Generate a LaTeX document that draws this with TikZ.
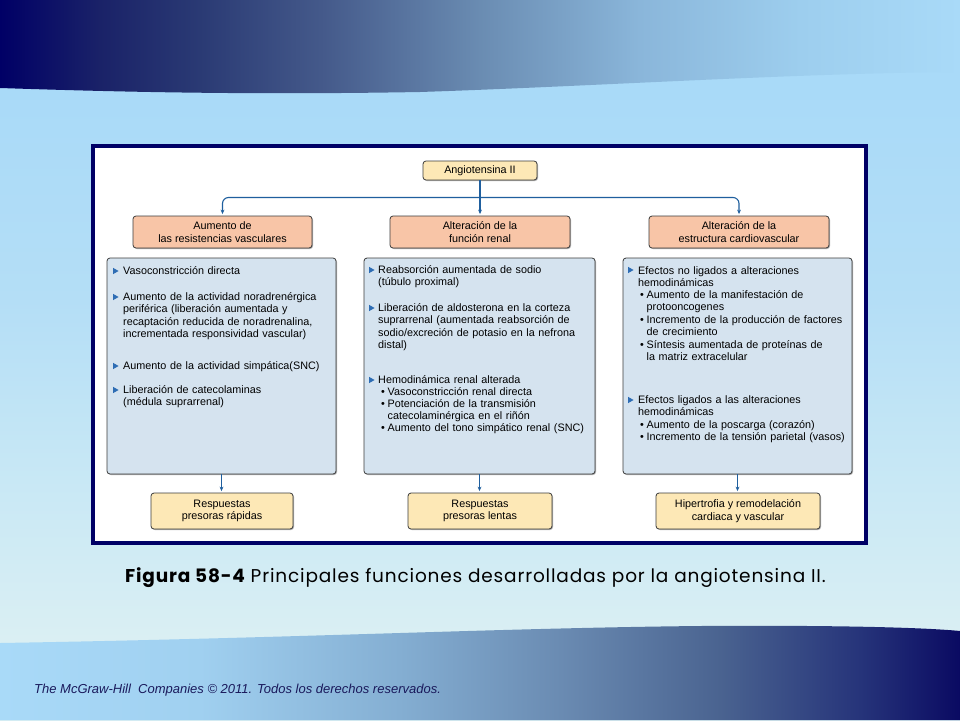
\documentclass[tikz,border=0pt]{standalone}
\usepackage{fontspec}
\setmainfont{Liberation Sans}
\newfontfamily\capfont[LetterSpace=4.5]{Poppins}
\usetikzlibrary{arrows.meta,shadows}
\definecolor{navy}{HTML}{000066}
\definecolor{bgtop}{HTML}{A9DAF8}
\definecolor{bgmid}{HTML}{B4DEF6}
\definecolor{bglow}{HTML}{C8E8F5}
\definecolor{bgbot}{HTML}{DAEFF3}
\definecolor{connc}{HTML}{1F5F9E}
\definecolor{tric}{HTML}{2E6DB4}
\definecolor{yelfill}{HTML}{FDE8B6}
\definecolor{salfill}{HTML}{F8C5A7}
\definecolor{bodyfill}{HTML}{D5E3EF}
\definecolor{edgec}{HTML}{3C3C3C}
\definecolor{footc}{HTML}{1A1A5C}
\definecolor{tA}{HTML}{1A2268}
\definecolor{tB}{HTML}{2A3A74}
\definecolor{tC}{HTML}{44598A}
\definecolor{tD}{HTML}{6A8CB2}
\definecolor{tE}{HTML}{8AB6DA}
\definecolor{tF}{HTML}{9DCEEE}
\definecolor{bA}{HTML}{A0D0F0}
\definecolor{bB}{HTML}{84AED2}
\definecolor{bC}{HTML}{6A8BB2}
\definecolor{bD}{HTML}{4A6390}
\definecolor{bE}{HTML}{26347A}
\definecolor{bF}{HTML}{0A0A62}
\pgfdeclarehorizontalshading{topband}{100bp}{color(0bp)=(navy); color(25bp)=(navy); color(30.2bp)=(tA); color(35.4bp)=(tB); color(41.7bp)=(tC); color(50bp)=(tD); color(58.3bp)=(tE); color(66.7bp)=(tF); color(75bp)=(bgtop); color(100bp)=(bgtop)}
\pgfdeclarehorizontalshading{botband}{100bp}{color(0bp)=(bgtop); color(25bp)=(bgtop); color(35.4bp)=(bA); color(45.8bp)=(bB); color(54.2bp)=(bC); color(62.5bp)=(bD); color(69.8bp)=(bE); color(75bp)=(bF); color(100bp)=(bF)}
\pgfdeclareverticalshading{bgshade}{100bp}{color(0bp)=(bgbot); color(30.6bp)=(bgbot); color(41.7bp)=(bglow); color(54.2bp)=(bgmid); color(68.75bp)=(bgtop); color(100bp)=(bgtop)}
\newcommand\subbul{\makebox[6.5pt][l]{•}}
\newcommand\subind{\hspace*{6.5pt}}
\begin{document}
\begin{tikzpicture}[x=1pt,y=-1pt,
  fs/.style={font=\fontsize{10.8}{12.4}\selectfont},
  boxbase/.style={draw=edgec, line width=0.8pt, rounded corners=3pt, inner sep=0pt, align=center, fs,
    drop shadow={shadow xshift=1pt, shadow yshift=-1pt, opacity=0.45, fill=black!70}},
  yelbox/.style={boxbase, fill=yelfill},
  salbox/.style={boxbase, fill=salfill},
  bodybox/.style={boxbase, fill=bodyfill},
  itemtext/.style={fs, anchor=base west, inner sep=0pt, align=left, text width=225pt},
  connector/.style={draw=connc, line width=1.1pt, -{Stealth[length=4.5pt,width=3.8pt]}, shorten >=1.5pt},
  tribul/.pic={\fill[tric] (0,-3.2) -- (0,3.2) -- (5.6,0) -- cycle;}
]
\useasboundingbox (0,0) rectangle (960,720);
% background
\shade[shading=bgshade] (0,0) rectangle (960,720);
\shade[shading=topband] (0,0) -- (960,0) -- (960,72)
  .. controls (800,73) and (600,86) .. (420,92)
  .. controls (250,95) and (120,92) .. (0,88) -- cycle;
\shade[shading=botband] (0,720) -- (0,643)
  .. controls (300,638) and (500,628) .. (700,626)
  .. controls (850,625) and (930,628) .. (960,631) -- (960,720) -- cycle;
% frame
\node[draw=navy, line width=4pt, fill=white, minimum width=773pt, minimum height=397pt, inner sep=0pt] (frame) at (479.5,344.5) {};
% top node and headers
\node[yelbox, minimum width=114pt, minimum height=19pt] (ang) at (480,170.5) {Angiotensina II};
\node[salbox, minimum width=179pt, minimum height=32pt] (h1) at (222.5,232) {Aumento de\\las resistencias vasculares};
\node[salbox, minimum width=180pt, minimum height=32pt] (h2) at (480,232) {Alteración de la\\función renal};
\node[salbox, minimum width=180pt, minimum height=32pt] (h3) at (739,232) {Alteración de la\\estructura cardiovascular};
% body boxes
\node[bodybox, minimum width=229pt, minimum height=216pt] (b1) at (221.5,366) {};
\node[bodybox, minimum width=231pt, minimum height=216pt] (b2) at (479.5,366) {};
\node[bodybox, minimum width=229pt, minimum height=216pt] (b3) at (737.5,366) {};
% result boxes
\node[yelbox, minimum width=142pt, minimum height=36pt] (r1) at (222,511) {Respuestas\\presoras rápidas};
\node[yelbox, minimum width=144pt, minimum height=36pt] (r2) at (480,511) {Respuestas\\presoras lentas};
\node[yelbox, minimum width=164pt, minimum height=36pt] (r3) at (738,511) {Hipertrofia y remodelación\\cardiaca y vascular};
% connectors
\coordinate (split) at (480,197.5);
\draw[connector] (ang.south) -- (h2.north);
\draw[connector, rounded corners=6pt] (split) -| (h1.north);
\draw[connector, rounded corners=6pt] (split) -| (h3.north);
\draw[connector] (b1.south) -- (b1.south |- r1.north);
\draw[connector] (b2.south) -- (b2.south |- r2.north);
\draw[connector] (b3.south) -- (b3.south |- r3.north);
% box 1 items
\pic at (113,271) {tribul};
\node[itemtext] (a1) at (123,274.5) {Vasoconstricción directa};
\pic at (113,297) {tribul};
\node[itemtext] (a2) at (123,300.5) {Aumento de la actividad noradrenérgica\\periférica (liberación aumentada y\\recaptación reducida de noradrenalina,\\incrementada responsividad vascular)};
\pic at (113,366) {tribul};
\node[itemtext] (a3) at (123,369.5) {Aumento de la actividad simpática(SNC)};
\pic at (113,390) {tribul};
\node[itemtext] (a4) at (123,393.5) {Liberación de catecolaminas\\(médula suprarrenal)};
% box 2 items
\pic at (369,270) {tribul};
\node[itemtext] (c1) at (378,273.5) {Reabsorción aumentada de sodio\\(túbulo proximal)};
\pic at (369,308) {tribul};
\node[itemtext] (c2) at (378,311.5) {Liberación de aldosterona en la corteza\\suprarrenal (aumentada reabsorción de\\sodio/excreción de potasio en la nefrona\\distal)};
\pic at (369,380) {tribul};
\node[itemtext] (c3) at (378,383.5) {Hemodinámica renal alterada};
\node[itemtext] (c4) at (381,395.5) {\subbul Vasoconstricción renal directa};
\node[itemtext] (c5) at (381,407.5) {\subbul Potenciación de la transmisión\\\subind catecolaminérgica en el riñón};
\node[itemtext] (c6) at (381,431.5) {\subbul Aumento del tono simpático renal (SNC)};
% box 3 items
\pic at (628,270) {tribul};
\node[itemtext] (d1) at (638,274) {Efectos no ligados a alteraciones\\hemodinámicas};
\node[itemtext] (d2) at (640,298.5) {\subbul Aumento de la manifestación de\\\subind protooncogenes};
\node[itemtext] (d3) at (640,323.5) {\subbul Incremento de la producción de factores\\\subind de crecimiento};
\node[itemtext] (d4) at (640,348.5) {\subbul Síntesis aumentada de proteínas de\\\subind la matriz extracelular};
\pic at (628,400) {tribul};
\node[itemtext] (d5) at (638,403.5) {Efectos ligados a las alteraciones\\hemodinámicas};
\node[itemtext] (d6) at (640,428.5) {\subbul Aumento de la poscarga (corazón)};
\node[itemtext] (d7) at (640,440.5) {\subbul Incremento de la tensión parietal (vasos)};
% caption and footer
\node[anchor=west, inner sep=0pt, font=\capfont\fontsize{18.5}{22}\selectfont] (cap) at (125,578) {{\bfseries Figura 58-4} Principales funciones desarrolladas por la angiotensina II.};
\node[anchor=west, inner sep=0pt, text=footc, font=\itshape\fontsize{13}{15}\selectfont] (foot) at (34,690) {The McGraw-Hill\ \ Companies © 2011. Todos los derechos reservados.};
\end{tikzpicture}
\end{document}
